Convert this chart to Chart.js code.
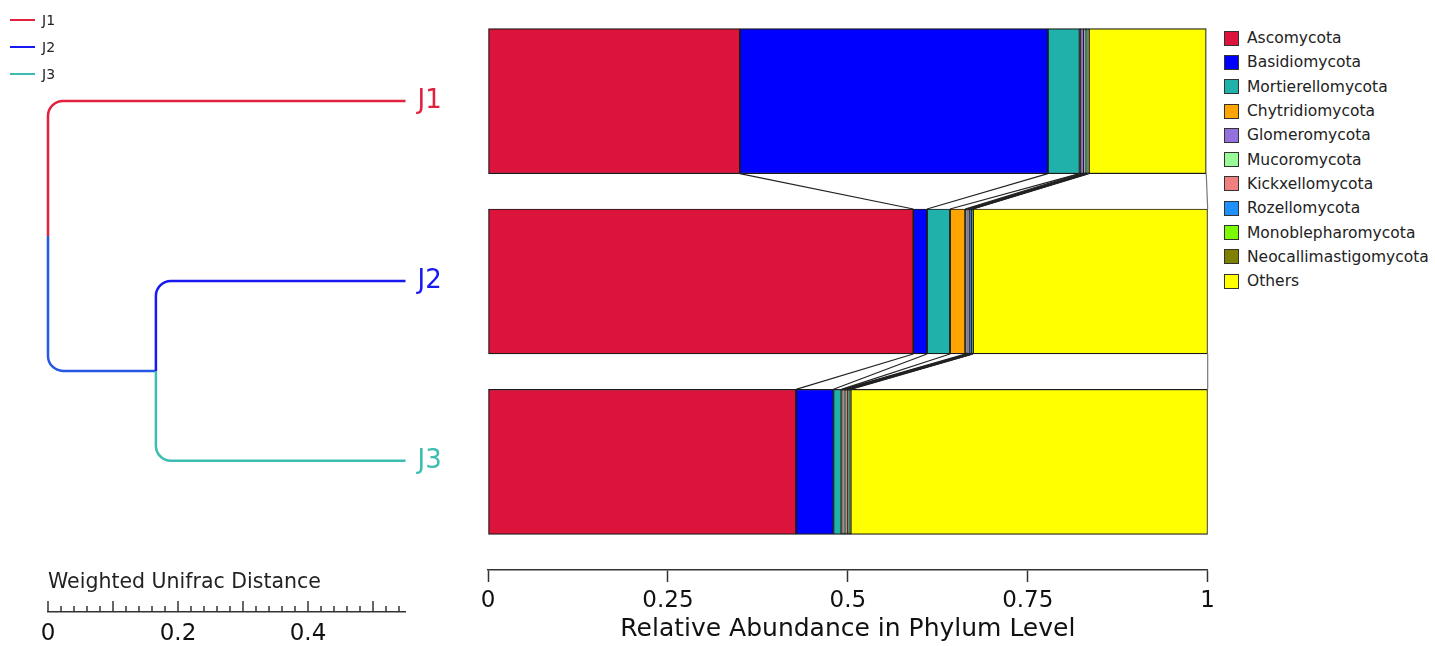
<!DOCTYPE html>
<html>
<head>
<meta charset="utf-8">
<script src="https://cdn.jsdelivr.net/npm/chart.js@4.4.1/dist/chart.umd.min.js"></script>
<style>
  body { margin: 0; background: #fff; width: 1435px; height: 646px; overflow: hidden; position: relative; font-family: 'DejaVu Sans', sans-serif; }
  #tree-wrap { position: absolute; left: 0; top: 0; width: 460px; height: 646px; }
  #bar-wrap  { position: absolute; left: 460px; top: 0; width: 760px; height: 646px; }
  #tree-legend { position: absolute; left: 10px; top: 6px; font-size: 14px; color: #222; }
  #tree-legend div { height: 27px; line-height: 22px; display: flex; align-items: center; }
  #tree-legend span.ln { display: inline-block; width: 25px; height: 2px; margin-right: 7px; }
  #phylum-legend { position: absolute; left: 1224px; top: 26px; font-size: 15.5px; color: #222; }
  #phylum-legend div { height: 24.3px; display: flex; align-items: center; }
  #phylum-legend span.box { display: inline-block; width: 13px; height: 13px; border: 1.5px solid #333; margin-right: 8px; }
</style>
</head>
<body>
<div id="tree-wrap"><canvas id="tree-chart" width="460" height="646"></canvas></div>
<div id="bar-wrap"><canvas id="bar-chart" width="760" height="646"></canvas></div>
<div id="tree-legend"></div>
<div id="phylum-legend"></div>
<script>
const samples = ['J1', 'J2', 'J3'];
const sampleColors = ['#E2203F', '#1818F2', '#3DBDB1'];
const rootStemColor = '#2458E4';

const phyla = ['Ascomycota', 'Basidiomycota', 'Mortierellomycota', 'Chytridiomycota', 'Glomeromycota',
  'Mucoromycota', 'Kickxellomycota', 'Rozellomycota', 'Monoblepharomycota', 'Neocallimastigomycota', 'Others'];
const phylaColors = ['#DC143C', '#0000FF', '#20B2AA', '#FFA500', '#9370DB',
  '#98FB98', '#F08080', '#1E90FF', '#7CFC00', '#808000', '#FFFF00'];

// relative abundance, one array per phylum, order J1, J2, J3
const ascomycota       = [0.350, 0.591, 0.428];
const basidiomycota    = [0.428, 0.019, 0.052];
const mortierellomycota= [0.044, 0.032, 0.011];
const chytridiomycota  = [0.001, 0.021, 0.002];
const glomeromycota    = [0.005, 0.003, 0.002];
const mucoromycota     = [0.001, 0.001, 0.002];
const kickxellomycota  = [0.001, 0.001, 0.003];
const rozellomycota    = [0.002, 0.004, 0.001];
const monoblepharomycota = [0.001, 0.001, 0.001];
const neocallimastigomycota = [0.002, 0.001, 0.002];
const others           = [0.163, 0.326, 0.496];
const abundance = [ascomycota, basidiomycota, mortierellomycota, chytridiomycota, glomeromycota,
  mucoromycota, kickxellomycota, rozellomycota, monoblepharomycota, neocallimastigomycota, others];

const abundanceTicks = [0, 0.25, 0.5, 0.75, 1];

// dendrogram: distance from root (Weighted Unifrac)
const leafDistance = [0.55, 0.55, 0.55];
const joinJ2J3 = 0.166;
const distanceLabels = [0, 0.2, 0.4];

const axisFont = "'DejaVu Sans', sans-serif";

// ---------- legends ----------
const treeLegend = document.getElementById('tree-legend');
samples.forEach((s, i) => {
  const d = document.createElement('div');
  d.innerHTML = `<span class="ln" style="background:${sampleColors[i]}"></span>${s}`;
  treeLegend.appendChild(d);
});
const phylumLegend = document.getElementById('phylum-legend');
phyla.forEach((p, i) => {
  const d = document.createElement('div');
  d.innerHTML = `<span class="box" style="background:${phylaColors[i]}"></span>${p}`;
  phylumLegend.appendChild(d);
});

// ---------- stacked bars ----------
const linkLines = {
  id: 'linkLines',
  afterDatasetsDraw(chart) {
    const ctx = chart.ctx;
    const x = chart.scales.x;
    ctx.save();
    ctx.lineWidth = 1.2;
    for (let r = 0; r < samples.length - 1; r++) {
      let cumA = 0, cumB = 0;
      abundance.forEach((vals, k) => {
        cumA += vals[r];
        cumB += vals[r + 1];
        const elA = chart.getDatasetMeta(k).data[r];
        const elB = chart.getDatasetMeta(k).data[r + 1];
        const yA = elA.y + elA.height / 2;
        const yB = elB.y - elB.height / 2;
        ctx.strokeStyle = k === abundance.length - 1 ? '#777' : '#222';
        ctx.beginPath();
        ctx.moveTo(x.getPixelForValue(Math.min(cumA, 1)), yA);
        ctx.lineTo(x.getPixelForValue(Math.min(cumB, 1)), yB);
        ctx.stroke();
      });
    }
    ctx.restore();
  }
};

new Chart(document.getElementById('bar-chart'), {
  type: 'bar',
  data: {
    datasets: phyla.map((p, k) => ({
      label: p,
      data: abundance[k].map((v, i) => ({ x: v, y: i })),
      backgroundColor: phylaColors[k],
      borderColor: '#1a1a1a',
      borderWidth: 1.2,
      borderSkipped: false,
      barThickness: 145,
    }))
  },
  options: {
    indexAxis: 'y',
    responsive: false,
    animation: false,
    layout: { padding: { left: 28, right: 10, top: 11, bottom: 0 } },
    scales: {
      x: {
        type: 'linear', stacked: true, min: 0, max: 1,
        afterBuildTicks: s => { s.ticks = abundanceTicks.map(v => ({ value: v })); },
        ticks: { color: '#111', font: { size: 23, family: axisFont }, padding: 5, maxRotation: 0,
                 callback: v => String(v) },
        grid: { drawOnChartArea: false, drawTicks: true, tickLength: 12, color: '#333', tickWidth: 1.5 },
        border: { display: true, color: '#333', width: 1.5 },
        title: { display: true, text: 'Relative Abundance in Phylum Level', color: '#111',
                 font: { size: 25, family: axisFont }, padding: { top: 0, bottom: 2 } },
        afterFit: s => { s.height = 76; }
      },
      y: { type: 'linear', stacked: true, reverse: true, offset: false, min: -0.5, max: 2.6, display: false }
    },
    plugins: { legend: { display: false }, tooltip: { enabled: false } }
  },
  plugins: [linkLines]
});

// ---------- dendrogram ----------
const rootY = (0 + (1 + 2) / 2) / 2;
const nodeY = (1 + 2) / 2;
const branches = [
  { color: sampleColors[0], pts: [{ x: leafDistance[0], y: 0 }, { x: 0, y: 0 }, { x: 0, y: rootY }] },
  { color: rootStemColor,   pts: [{ x: 0, y: rootY }, { x: 0, y: nodeY }, { x: joinJ2J3, y: nodeY }] },
  { color: sampleColors[1], pts: [{ x: joinJ2J3, y: nodeY }, { x: joinJ2J3, y: 1 }, { x: leafDistance[1], y: 1 }] },
  { color: sampleColors[2], pts: [{ x: joinJ2J3, y: nodeY }, { x: joinJ2J3, y: 2 }, { x: leafDistance[2], y: 2 }] },
];

const treeDraw = {
  id: 'treeDraw',
  afterDatasetsDraw(chart) {
    const ctx = chart.ctx;
    const x = chart.scales.x, area = chart.chartArea;
    ctx.save();
    ctx.lineWidth = 2.5;
    branches.forEach((b, k) => {
      const pts = chart.getDatasetMeta(k).data;
      ctx.strokeStyle = b.color;
      ctx.beginPath();
      ctx.moveTo(pts[0].x, pts[0].y);
      for (let i = 1; i < pts.length - 1; i++) {
        ctx.arcTo(pts[i].x, pts[i].y, pts[i + 1].x, pts[i + 1].y, 15);
      }
      ctx.lineTo(pts[pts.length - 1].x, pts[pts.length - 1].y);
      ctx.stroke();
    });
    // leaf labels
    ctx.font = "26px 'DejaVu Sans', sans-serif";
    ctx.textBaseline = 'middle';
    samples.forEach((s, i) => {
      const p = chart.getDatasetMeta(i === 0 ? 0 : i + 1).data;
      const leaf = i === 0 ? p[0] : p[p.length - 1];
      ctx.fillStyle = sampleColors[i];
      ctx.fillText(s, leaf.x + 12, leaf.y);
    });
    // axis ticks pointing up
    ctx.strokeStyle = '#333';
    ctx.lineWidth = 1.5;
    x.ticks.forEach(t => {
      const px = x.getPixelForValue(t.value);
      const major = Math.abs(t.value * 10 - Math.round(t.value * 10)) < 1e-6;
      ctx.beginPath();
      ctx.moveTo(px, area.bottom);
      ctx.lineTo(px, area.bottom - (major ? 11 : 6));
      ctx.stroke();
    });
    ctx.fillStyle = '#222';
    ctx.font = "20.5px 'DejaVu Sans', sans-serif";
    ctx.textBaseline = 'alphabetic';
    ctx.fillText('Weighted Unifrac Distance', area.left, area.bottom - 24);
    ctx.restore();
  }
};

new Chart(document.getElementById('tree-chart'), {
  type: 'scatter',
  data: {
    datasets: branches.map(b => ({ data: b.pts, showLine: false, pointRadius: 0, borderColor: b.color }))
  },
  options: {
    responsive: false,
    animation: false,
    layout: { padding: { left: 48, right: 54.5, top: 11, bottom: 0 } },
    scales: {
      x: {
        type: 'linear', min: 0, max: 0.55,
        ticks: {
          stepSize: 0.02, includeBounds: false, autoSkip: false, maxRotation: 0,
          color: '#111', font: { size: 23, family: "'DejaVu Sans', sans-serif" }, padding: 8,
          callback: v => distanceLabels.some(d => Math.abs(d - v) < 1e-6) ? String(+v.toFixed(1)) : ''
        },
        grid: { display: false, drawTicks: false },
        border: { display: true, color: '#333', width: 1.5 },
        afterFit: s => { s.height = 34; }
      },
      y: { type: 'linear', reverse: true, min: -0.5, max: 2.84, display: false }
    },
    plugins: { legend: { display: false }, tooltip: { enabled: false } }
  },
  plugins: [treeDraw]
});
</script>
</body>
</html>
